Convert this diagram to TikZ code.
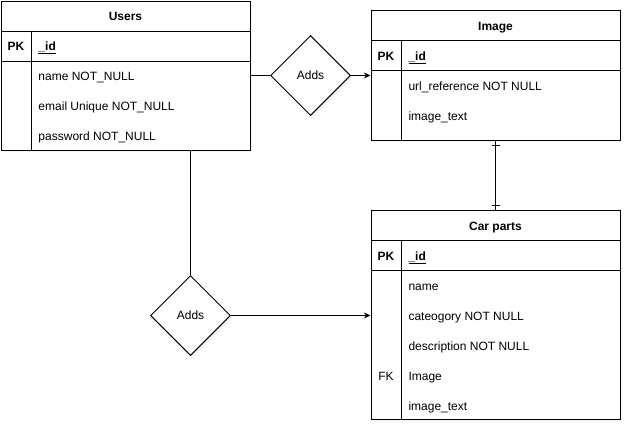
\documentclass[tikz,border=0pt]{standalone}
\usepackage{fontspec}
\setmainfont{Liberation Sans}
\usetikzlibrary{shapes.geometric,arrows.meta,decorations.markings,shadows}

\begin{document}
\begin{tikzpicture}[x=0.75pt,y=0.75pt,yscale=-1,xscale=1,
    font=\fontsize{9}{11}\selectfont, line width=0.75pt,
    tablebox/.style={draw, fill=white, inner sep=0pt, minimum width=186.75pt,
      drop shadow={opacity=0.08, shadow xshift=1.5pt, shadow yshift=-1.5pt}},
    relbox/.style={diamond, draw, fill=white, aspect=1, inner sep=0pt,
      minimum width=60pt, minimum height=60pt,
      drop shadow={opacity=0.08, shadow xshift=1.5pt, shadow yshift=-1.5pt}},
    attr/.style={anchor=west, inner sep=0pt, text height=6.5pt, text depth=0pt},
    keytxt/.style={inner sep=0pt, text height=6.5pt, text depth=0pt,
      font=\fontsize{9}{11}\selectfont\bfseries},
    onetick/.style={postaction={decorate}, decoration={markings,
      mark=at position 3.75pt with {\draw (0,-3pt) -- (0,3pt);},
      mark=at position -3.75pt with {\draw (0,-3pt) -- (0,3pt);}}},
    tip/.style={-{Stealth[length=5pt,width=4.5pt]}}]
    \useasboundingbox (0,0) rectangle (632,432);

    %Shape: Table [id:users]
    \node[tablebox, minimum height=111.75pt] (users) at (125.5,75.5) {};
    \draw (1,31) -- (250,31) (1,61) -- (250,61) (31,31) -- (31,150) ;
    %Shape: Table [id:image]
    \node[tablebox, minimum height=97.5pt] (img) at (495.5,75) {};
    \draw (371,40) -- (620,40) (371,70) -- (620,70) (401,40) -- (401,140) ;
    %Shape: Table [id:carparts]
    \node[tablebox, minimum height=157.1pt] (car) at (495.5,315.25) {};
    \draw (371,240.5) -- (620,240.5) (371,270.5) -- (620,270.5) (401,240.5) -- (401,420) ;

    %Shape: Diamond [id:adds1]
    \node[relbox] (adds1) at (310.5,75.5) {Adds};
    %Shape: Diamond [id:adds2]
    \node[relbox] (adds2) at (190.5,315.5) {Adds};

    %Straight Lines
    \draw (users.east) -- (adds1.west) ;
    \draw [tip] (adds1.east) -- (adds1.east -| img.west) ;
    \draw (adds2.north) -- (adds2.north |- users.south) ;
    \draw [tip] (adds2.east) -- (adds2.east -| car.west) ;
    \draw [onetick] (img.south) -- (car.north) ;

    % Text Node
    \node[keytxt] (usrtitle) at (125.5,16) {Users};
    \node[keytxt] (usrpk) at (16,46) {PK};
    \node[attr, font=\fontsize{9}{11}\selectfont\bfseries] (usrid) at (38,46) {\underline{\_id}};
    \node[attr] (usrname) at (38,76) {name NOT\_NULL};
    \node[attr] (usrmail) at (38,106) {email Unique NOT\_NULL};
    \node[attr] (usrpass) at (38,136) {password NOT\_NULL};
    % Text Node
    \node[keytxt] (imgtitle) at (495.5,26) {Image};
    \node[keytxt] (imgpk) at (386,56) {PK};
    \node[attr, font=\fontsize{9}{11}\selectfont\bfseries] (imgid) at (408,56) {\underline{\_id}};
    \node[attr] (imgurl) at (408,86) {url\_reference NOT NULL};
    \node[attr] (imgtext) at (408,116) {image\_text};
    % Text Node
    \node[keytxt] (cartitle) at (495.5,226) {Car parts};
    \node[keytxt] (carpk) at (386,256) {PK};
    \node[attr, font=\fontsize{9}{11}\selectfont\bfseries] (carid) at (408,256) {\underline{\_id}};
    \node[attr] (carname) at (408,286) {name};
    \node[attr] (carcat) at (408,316) {cateogory NOT NULL};
    \node[attr] (cardesc) at (408,346) {description NOT NULL};
    \node[inner sep=0pt, text height=6.5pt, text depth=0pt] (carfk) at (386,376) {FK};
    \node[attr] (carimg) at (408,376) {Image};
    \node[attr] (cartext) at (408,406) {image\_text};

\end{tikzpicture}
\end{document}
